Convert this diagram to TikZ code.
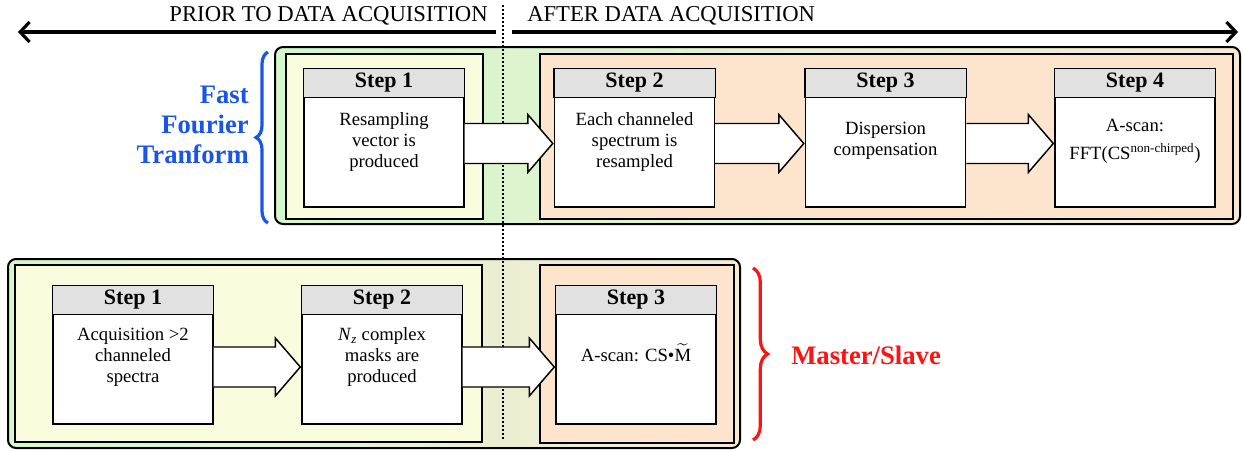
\documentclass[tikz,border=0pt]{standalone}
\usepackage{fontspec}
\setmainfont{LiberationSerif}[Extension=.ttf, UprightFont=*-Regular, BoldFont=*-Bold, ItalicFont=*-Italic, BoldItalicFont=*-BoldItalic]
\usepackage{amsmath}
\usetikzlibrary{calc,arrows.meta,decorations.pathreplacing}

\definecolor{fftblue}{RGB}{25,85,230}
\definecolor{msred}{RGB}{250,20,20}
\definecolor{bggreen}{RGB}{212,247,204}
\definecolor{bgbeige}{RGB}{247,234,212}
\definecolor{preyellow}{RGB}{250,252,222}
\definecolor{postorange}{RGB}{253,229,205}
\definecolor{headgray}{RGB}{225,225,225}

\tikzset{
	stepbox/.style={draw, line width=1.1pt, fill=white, minimum width=120pt, minimum height=103.5pt, inner sep=0pt},
	stepbody/.style={align=center, font=\fontsize{14}{15.75}\selectfont, inner sep=0pt},
	stephead/.style={draw, line width=1.1pt, fill=headgray},
	steptitle/.style={font=\fontsize{16.5}{18}\selectfont\bfseries, inner sep=0pt},
	outerbox/.style={draw, line width=1.5pt, rounded corners=6pt, left color=bggreen, right color=bgbeige},
	phasebox/.style={draw, line width=1.5pt},
	blockarr/.style={draw, line width=1.1pt, fill=white, line join=miter},
	timeline/.style={line width=2.4pt, -{Straight Barb[length=7pt,width=15pt]}},
	bracemark/.style={decorate, decoration={brace, amplitude=9pt}, line width=2.4pt},
	sidelabel/.style={font=\fontsize{20}{22.5}\selectfont\bfseries, inner sep=0pt},
	phaselabel/.style={font=\fontsize{17}{20}\selectfont, inner sep=0pt},
}

% step card: white box with grey title bar, #5 = shift of the body text
\newcommand{\makestep}[5]{%
	\node[stepbox] (#1) at (#2) {};
	\draw[stephead] (#1.north west) rectangle ($(#1.north east)+(0,29)$);
	\node[steptitle] (#1-title) at ($(#1.north)+(0,14.5)$) {Step #3};
	\node[stepbody] (#1-body) at ($(#1.center)+(0,#5)$) {#4};
}
% block arrow between two cards, #3 = vertical shift
\newcommand{\blockarrow}[3]{%
	\draw[blockarr] ($(#1.east)+(0,#3-20)$) -- ($(#2.west)+(-26,#3-20)$) -- ($(#2.west)+(-26,#3-29)$) -- ($(#2.west)+(-1,#3)$) -- ($(#2.west)+(-26,#3+29)$) -- ($(#2.west)+(-26,#3+20)$) -- ($(#1.east)+(0,#3+20)$);
}

\begin{document}
\begin{tikzpicture}[x=0.75pt,y=0.75pt,yscale=-1,xscale=1]
	\useasboundingbox (0,0) rectangle (1244,450);

	% background panels
	\draw[outerbox] (275,47) rectangle (1240,224);
	\draw[phasebox, fill=preyellow] (286,54) rectangle (483,219);
	\draw[phasebox, fill=postorange] (540,54) rectangle (1233,219);

	\draw[outerbox] (8,259) rectangle (740,448);
	\draw[phasebox, fill=preyellow] (15,265) rectangle (482,442);
	\draw[phasebox, fill=postorange] (540,265) rectangle (734,443);

	% time split
	\coordinate (splitTop) at (503,5);
	\coordinate (splitBot) at (503,440);
	\draw[line width=1.2pt, dash pattern=on 1.5pt off 1.5pt] (splitTop) -- (splitBot);

	\coordinate (gapL) at (496,32);
	\coordinate (gapR) at (512,32);
	\coordinate (pastEnd) at (18,32);
	\coordinate (futEnd) at (1238,32);
	\draw[timeline] (gapL) -- (pastEnd);
	\draw[timeline] (gapR) -- (futEnd);
	\node[phaselabel, anchor=base east] (priorlbl) at (488,21) {PRIOR TO DATA ACQUISITION};
	\node[phaselabel, anchor=base west] (afterlbl) at (527,21) {AFTER DATA ACQUISITION};

	% FFT row
	\makestep{f1}{384,138}{1}{Resampling\\vector is\\produced}{4}
	\makestep{f2}{634.5,138}{2}{Each channeled\\spectrum is\\resampled}{4}
	\makestep{f3}{885.5,138}{3}{Dispersion\\compensation}{3}
	\makestep{f4}{1135,138}{4}{A-scan:\\[5pt]FFT(CS\textsuperscript{non-chirped})}{3}
	\blockarrow{f1}{f2}{5.5}
	\blockarrow{f2}{f3}{5.5}
	\blockarrow{f3}{f4}{5.5}

	% Master/Slave row
	\makestep{m1}{133,355}{1}{Acquisition >2\\channeled\\spectra}{2}
	\makestep{m2}{382,355}{2}{\textit{N}\textsubscript{\textit{z}} complex\\masks are\\produced}{2}
	\makestep{m3}{636,355}{3}{A-scan: CS\textbullet$\widetilde{\text{M}}$}{-2}
	\blockarrow{m1}{m2}{12}
	\blockarrow{m2}{m3}{12}

	% braces and side labels
	\draw[bracemark, fftblue] (268,223) -- (268,52);
	\node[sidelabel, text=fftblue, align=right, anchor=east] (fftlbl) at (249,125) {Fast\\Fourier\\Tranform};
	\draw[bracemark, msred, decoration={amplitude=11pt}] (753,268) -- (753,440);
	\node[sidelabel, text=msred, anchor=west] (mslbl) at (791,355) {Master/Slave};

\end{tikzpicture}
\end{document}
